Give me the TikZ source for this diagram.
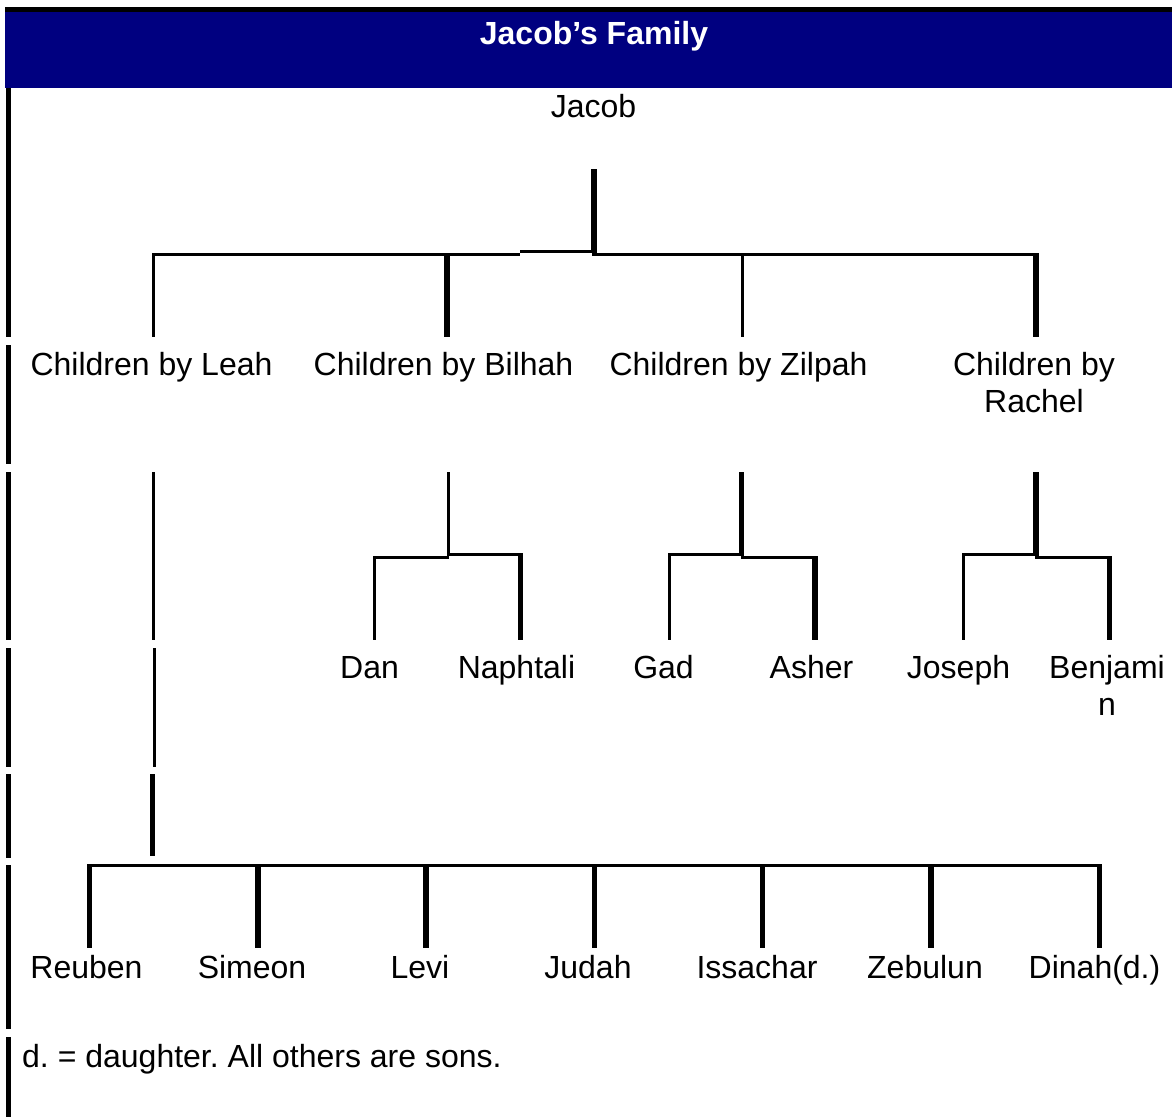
\documentclass[tikz,border=0pt]{standalone}
\usepackage{fontspec}
\setmainfont{Liberation Sans}
\frenchspacing
\definecolor{hdrblue}{RGB}{0,0,128}
\begin{document}
\begin{tikzpicture}[x=1pt,y=-1pt,
  lab/.style={anchor=base,inner sep=0pt,font=\fontsize{32}{37}\selectfont\frenchspacing,align=center},
  hdr/.style={anchor=base,inner sep=0pt,font=\fontsize{32}{37}\selectfont\bfseries,text=white},
  lthin/.style={line width=3pt},
  lheavy/.style={line width=5.5pt},
  border/.style={line width=5pt}]
\useasboundingbox (0,0) rectangle (1172,1117);
% header
\fill[black] (5,7) rectangle (1172,12);
\fill[hdrblue] (5,12) rectangle (1172,88);
\node[hdr] (title) at (594,44) {Jacob’s Family};
% left table border, broken at row gaps
\foreach \a/\b in {88/337,345/464,472/640,648/767,774/858,865/1029,1037/1117}
  \draw[border] (8.5,\a) -- (8.5,\b);
% text nodes (multi-line nodes are placed by their last baseline)
\node[lab] (jacob) at (593.5,117) {Jacob};
\node[lab] (leah) at (151.5,375) {Children by Leah};
\node[lab] (bilhah) at (443.5,375) {Children by Bilhah};
\node[lab] (zilpah) at (738.5,375) {Children by Zilpah};
\node[lab] (rachel) at (1034,412) {Children by\\Rachel};
\node[lab] (dan) at (369.5,678) {Dan};
\node[lab] (naphtali) at (516.5,678) {Naphtali};
\node[lab] (gad) at (663.5,678) {Gad};
\node[lab] (asher) at (811.5,678) {Asher};
\node[lab] (joseph) at (958.5,678) {Joseph};
\node[lab] (benjamin) at (1107,715) {Benjami\\n};
\node[lab] (reuben) at (86.5,978) {Reuben};
\node[lab] (simeon) at (252,978) {Simeon};
\node[lab] (levi) at (420,978) {Levi};
\node[lab] (judah) at (588,978) {Judah};
\node[lab] (issachar) at (757,978) {Issachar};
\node[lab] (zebulun) at (925,978) {Zebulun};
\node[lab] (dinah) at (1094.5,978) {Dinah(d.)};
\node[lab,anchor=base west] (note) at (22,1067) {d. = daughter. All others are sons.};
% junction coordinates, row 1
\coordinate (jtop) at (594,169);
\coordinate (jbot) at (594,253);
\coordinate (jmid) at (520,251.5);
\coordinate (jL) at (152,254.5);
\coordinate (jR) at (1039,254.5);
\coordinate (leahT) at (153.5,254);   \coordinate (leahB) at (153.5,337);
\coordinate (bilT) at (447,254);      \coordinate (bilB) at (447,337);
\coordinate (zilT) at (742.5,254);    \coordinate (zilB) at (742.5,337);
\coordinate (racT) at (1036,254);     \coordinate (racB) at (1036,337);
\draw[lheavy] (jtop) -- (jbot);
\draw[lthin] (jmid) -- (594,251.5);
\draw[lthin] (jL) -- (jmid |- jL);
\draw[lthin] (592,254.5) -- (jR);
\draw[lthin] (leahT) -- (leahB);
\draw[lheavy] (bilT) -- (bilB);
\draw[lthin] (zilT) -- (zilB);
\draw[lheavy] (racT) -- (racB);
% row 3
\coordinate (leah3T) at (153.5,472);  \coordinate (leah3B) at (153.5,640);
\draw[lthin] (leah3T) -- (leah3B);
% Bilhah group
\coordinate (bil3T) at (448.5,472);   \coordinate (bil3B) at (448.5,556);
\coordinate (danT) at (374.5,556);    \coordinate (danB) at (374.5,640);
\coordinate (napT) at (520.5,553);    \coordinate (napB) at (520.5,640);
\draw[lthin] (bil3T) -- (bil3B);
\draw[lthin] (373,557.5) -- (448.5,557.5);
\draw[lthin] (447,554.5) -- (523,554.5);
\draw[lthin] (danT) -- (danB);
\draw[lheavy] (napT) -- (napB);
% Zilpah group
\coordinate (zil3T) at (741.5,472);   \coordinate (zil3B) at (741.5,556);
\coordinate (gadT) at (669.5,553);    \coordinate (gadB) at (669.5,640);
\coordinate (ashT) at (815,556);      \coordinate (ashB) at (815,640);
\draw[lheavy] (zil3T) -- (zil3B);
\draw[lthin] (668,554.5) -- (742,554.5);
\draw[lthin] (741,557.5) -- (818,557.5);
\draw[lthin] (gadT) -- (gadB);
\draw[lheavy] (ashT) -- (ashB);
% Rachel group
\coordinate (rac3T) at (1036,472);    \coordinate (rac3B) at (1036,556);
\coordinate (josT) at (963.5,553);    \coordinate (josB) at (963.5,640);
\coordinate (benT) at (1109.5,556);   \coordinate (benB) at (1109.5,640);
\draw[lheavy] (rac3T) -- (rac3B);
\draw[lthin] (962,554.5) -- (1036,554.5);
\draw[lthin] (1035,557.5) -- (1112,557.5);
\draw[lthin] (josT) -- (josB);
\draw[lheavy] (benT) -- (benB);
% Leah continuation
\coordinate (leah4T) at (154.5,648);  \coordinate (leah4B) at (154.5,767);
\draw[lthin] (leah4T) -- (leah4B);
\coordinate (leah5T) at (152.5,774);  \coordinate (leah5B) at (152.5,856);
\draw[lheavy] (leah5T) -- (leah5B);
% Leah's children bar
\coordinate (barL) at (87,865.5);
\coordinate (barR) at (1102,865.5);
\draw[lthin] (barL) -- (barR);
\foreach \x/\n in {89.5/reu,258/sim,426/lev,594.5/jud,762.5/iss,931/zeb,1099.5/din}{
  \coordinate (\n T) at (\x,864);
  \coordinate (\n B) at (\x,948);
  \draw[lheavy] (\n T) -- (\n B);
}
\end{tikzpicture}
\end{document}
